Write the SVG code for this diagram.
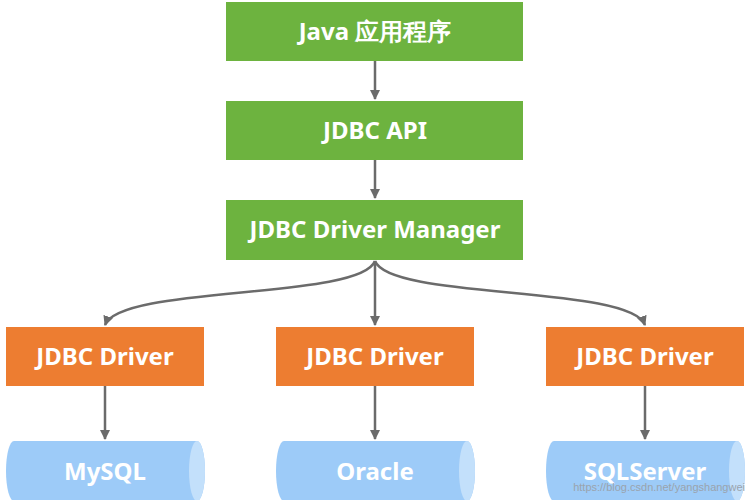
<svg xmlns="http://www.w3.org/2000/svg" width="749" height="500" viewBox="0 0 749 500">
<defs>
<style>
.g{fill:#6db33f}.o{fill:#ed7d31}.c{fill:#9dcbf8}.cap{fill:#c3e0fb}
.t{font-family:"Noto Sans","Open Sans",sans-serif;font-weight:bold;font-size:24px;fill:#fff;text-anchor:middle}
.l{stroke:#6b6b6b;stroke-width:2.5;fill:none;marker-end:url(#a)}
</style>
<marker id="a" viewBox="0 0 10 10" refX="9" refY="5" markerWidth="4" markerHeight="4" orient="auto"><path d="M0,0 L10,5 L0,10 z" fill="#6b6b6b"/></marker>
</defs>
<rect width="749" height="500" fill="#fff"/>
<g id="connectors">
<path class="l" d="M375,61 V99"/>
<path class="l" d="M375,160 V198"/>
<path class="l" d="M375,261 V325"/>
<path class="l" d="M375,261 C360,300 120,285 105,325"/>
<path class="l" d="M375,261 C390,300 630,285 645,325"/>
<path class="l" d="M105,386 V439"/>
<path class="l" d="M375,386 V439"/>
<path class="l" d="M645,386 V439"/>
</g>
<g id="java"><rect class="g" x="226" y="2" width="297" height="59"/><text class="t" x="375" y="40">Java 应用程序</text></g>
<g id="api"><rect class="g" x="226" y="101" width="297" height="59"/><text class="t" x="375" y="139">JDBC API</text></g>
<g id="mgr"><rect class="g" x="226" y="200" width="297" height="60"/><text class="t" x="375" y="238">JDBC Driver Manager</text></g>
<g id="d1"><rect class="o" x="6" y="327" width="198" height="59"/><text class="t" x="105" y="365">JDBC Driver</text></g>
<g id="d2"><rect class="o" x="276" y="327" width="198" height="59"/><text class="t" x="375" y="365">JDBC Driver</text></g>
<g id="d3"><rect class="o" x="546" y="327" width="198" height="59"/><text class="t" x="645" y="365">JDBC Driver</text></g>
<g id="mysql"><path class="c" d="M14,441 H197 A8,30 0 0 1 197,501 H14 A8,30 0 0 1 14,441 z"/><ellipse class="cap" cx="197" cy="471" rx="8" ry="30"/><text class="t" x="105" y="480">MySQL</text></g>
<g id="oracle"><path class="c" d="M284,441 H467 A8,30 0 0 1 467,501 H284 A8,30 0 0 1 284,441 z"/><ellipse class="cap" cx="467" cy="471" rx="8" ry="30"/><text class="t" x="375" y="480">Oracle</text></g>
<g id="sqlserver"><path class="c" d="M554,441 H737 A8,30 0 0 1 737,501 H554 A8,30 0 0 1 554,441 z"/><ellipse class="cap" cx="737" cy="471" rx="8" ry="30"/><text class="t" x="645" y="480">SQLServer</text></g>
<text x="745" y="491" font-family="Liberation Sans,sans-serif" font-size="11" fill="#9aa3ad" text-anchor="end">https://blog.csdn.net/yangshangwei</text>
</svg>
